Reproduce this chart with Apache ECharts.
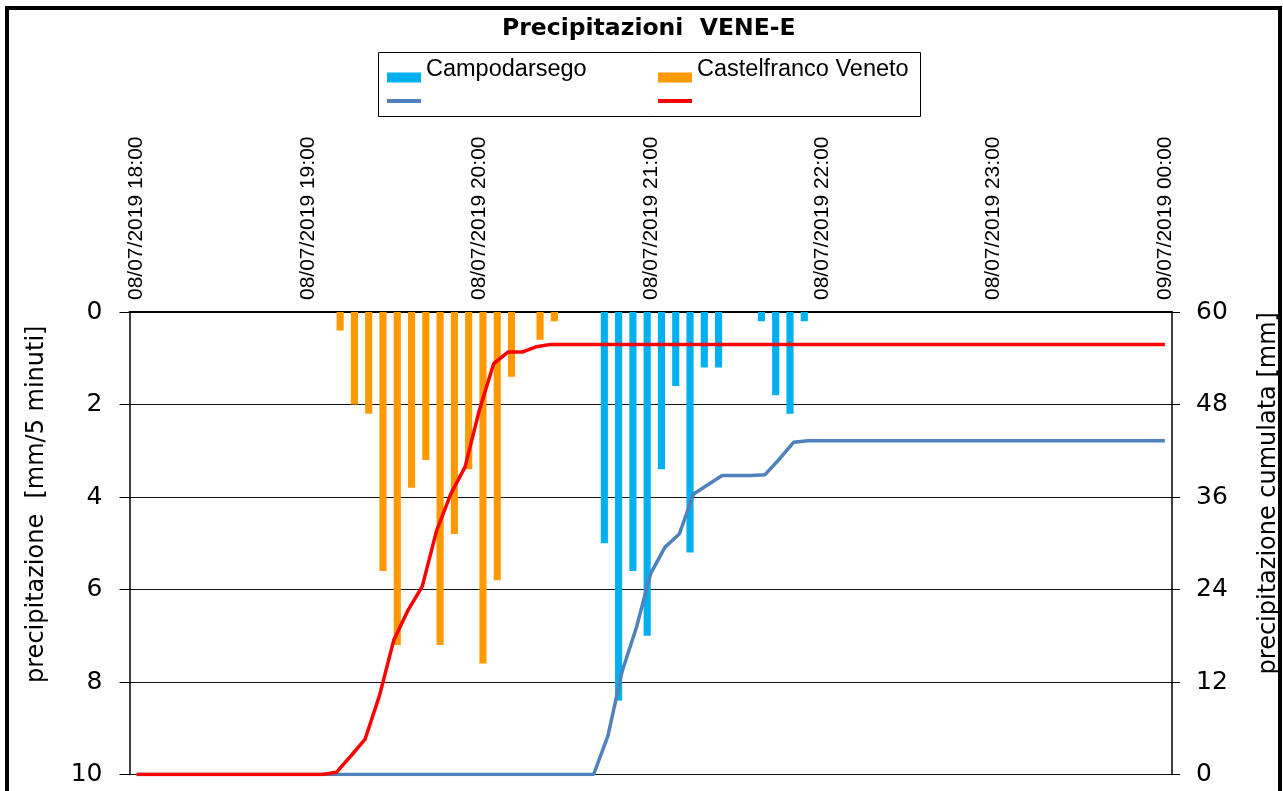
<!DOCTYPE html>
<html>
<head>
<meta charset="utf-8">
<script src="https://cdn.jsdelivr.net/npm/echarts@6/dist/echarts.min.js"></script>
<style>
html,body{margin:0;padding:0;background:#ffffff;}
#chart{width:1283px;height:791px;}
</style>
</head>
<body>
<div id="chart"></div>
<script>
// ---- data ----
const titleText = 'Precipitazioni  VENE-E';
const seriesNames = ['Campodarsego', 'Castelfranco Veneto'];
const cumNames = ['Campodarsego cumulata', 'Castelfranco Veneto cumulata'];

// 5-minute timestamps, 08/07/2019 18:00 -> 09/07/2019 00:00 (73 categories)
const categories = [];
for (let i = 0; i <= 72; i++) {
  const m = 18 * 60 + i * 5;
  const day = m >= 24 * 60 ? '09' : '08';
  const hh = String(Math.floor(m / 60) % 24).padStart(2, '0');
  const mm = String(m % 60).padStart(2, '0');
  categories.push(day + '/07/2019 ' + hh + ':' + mm);
}

// rain per 5 minutes [mm/5 minuti]
const campodarsegoBars = [
  0,0,0,0,0,0,0,0,0,0,0,0,
  0,0,0,0,0,0,0,0,0,0,0,0,
  0,0,0,0,0,0,0,0,0,5.0,8.4,5.6,
  7.0,3.4,1.6,5.2,1.2,1.2,0,0,0.2,1.8,2.2,0.2,
  0,0,0,0,0,0,0,0,0,0,0,0,
  0,0,0,0,0,0,0,0,0,0,0,0,
  0
];
const castelfrancoBars = [
  0,0,0,0,0,0,0,0,0,0,0,0,
  0,0,0.4,2.0,2.2,5.6,7.2,3.8,3.2,7.2,4.8,3.4,
  7.6,5.8,1.4,0,0.6,0.2,0,0,0,0,0,0,
  0,0,0,0,0,0,0,0,0,0,0,0,
  0,0,0,0,0,0,0,0,0,0,0,0,
  0,0,0,0,0,0,0,0,0,0,0,0,
  0
];
// cumulated rain [mm]
const campodarsegoCum = [
  0,0,0,0,0,0,0,0,0,0,0,0,
  0,0,0,0,0,0,0,0,0,0,0,0,
  0,0,0,0,0,0,0,0,0,5.0,13.4,19.1,
  26.1,29.5,31.2,36.4,37.6,38.8,38.8,38.8,38.9,40.9,43.1,43.3,
  43.3,43.3,43.3,43.3,43.3,43.3,43.3,43.3,43.3,43.3,43.3,43.3,
  43.3,43.3,43.3,43.3,43.3,43.3,43.3,43.3,43.3,43.3,43.3,43.3,
  43.3
];
const castelfrancoCum = [
  0,0,0,0,0,0,0,0,0,0,0,0,
  0,0,0.3,2.4,4.6,10.2,17.4,21.3,24.4,31.6,36.4,39.9,
  47.3,53.3,54.8,54.8,55.5,55.8,55.8,55.8,55.8,55.8,55.8,55.8,
  55.8,55.8,55.8,55.8,55.8,55.8,55.8,55.8,55.8,55.8,55.8,55.8,
  55.8,55.8,55.8,55.8,55.8,55.8,55.8,55.8,55.8,55.8,55.8,55.8,
  55.8,55.8,55.8,55.8,55.8,55.8,55.8,55.8,55.8,55.8,55.8,55.8,
  55.8
];

const colors = {
  campoBar: '#00B0F0',
  castelBar: '#FF9900',
  campoLine: '#4F81BD',
  castelLine: '#FF0000'
};

const chart = echarts.init(document.getElementById('chart'), null, {renderer: 'canvas'});

const legendText = {
  fontFamily: 'Liberation Sans',
  fontSize: 23.5,
  color: '#000',
  rich: { t: { fontFamily: 'Liberation Sans', fontSize: 23.5, color: '#000', padding: [0, 0, 15, 0] } }
};

const option = {
  animation: false,
  backgroundColor: '#ffffff',
  title: {
    text: titleText,
    left: 502,
    top: 17,
    padding: 0,
    textStyle: { fontFamily: 'DejaVu Sans', fontWeight: 'bold', fontSize: 23.5, color: '#000' }
  },
  legend: [
    { data: [seriesNames[0]], left: 387, top: 58, padding: 0, icon: 'rect', itemWidth: 34, itemHeight: 10,
      formatter: n => '{t|' + n + '}', textStyle: legendText },
    { data: [seriesNames[1]], left: 658, top: 58, padding: 0, icon: 'rect', itemWidth: 34, itemHeight: 10,
      formatter: n => '{t|' + n + '}', textStyle: legendText },
    { data: [cumNames[0]], left: 387, top: 99, padding: 0, icon: 'rect', itemWidth: 34, itemHeight: 4,
      formatter: () => '', textStyle: { fontSize: 1 } },
    { data: [cumNames[1]], left: 658, top: 99, padding: 0, icon: 'rect', itemWidth: 34, itemHeight: 4,
      formatter: () => '', textStyle: { fontSize: 1 } }
  ],
  graphic: [
    { type: 'rect', z: -1, shape: { x: 7, y: 8, width: 1273, height: 800 },
      style: { fill: 'none', stroke: '#000', lineWidth: 4 } },
    { type: 'rect', z: -1, shape: { x: 378.5, y: 52.5, width: 542, height: 64 },
      style: { fill: 'none', stroke: '#000', lineWidth: 1 } }
  ],
  grid: { left: 129.5, right: 111, top: 312, bottom: 16.5, containLabel: false, outerBoundsMode: 'none' },
  xAxis: {
    type: 'category',
    data: categories,
    position: 'top',
    boundaryGap: true,
    axisLine: { onZero: false, lineStyle: { color: '#000', width: 2 } },
    axisTick: { interval: 11, length: 5, lineStyle: { color: '#000', width: 1 } },
    axisLabel: { interval: 11, rotate: -90, margin: 12, fontFamily: 'Liberation Sans', fontSize: 21, color: '#000' },
    splitLine: { show: false }
  },
  yAxis: [
    {
      type: 'value', inverse: true, min: 0, max: 10, interval: 2, position: 'left',
      name: 'precipitazione  [mm/5 minuti]', nameLocation: 'middle', nameGap: 81,
      nameTextStyle: { fontFamily: 'DejaVu Sans', fontSize: 24, color: '#000', padding: [0, 0, 0, 78] },
      axisLine: { show: true, lineStyle: { color: '#000', width: 1.5 } },
      axisTick: { show: true, length: 10, lineStyle: { color: '#000' } },
      axisLabel: { margin: 27, fontFamily: 'DejaVu Sans', fontSize: 25, color: '#000' },
      splitLine: { show: true, lineStyle: { color: '#111', width: 1.2 } }
    },
    {
      type: 'value', min: 0, max: 60, interval: 12, position: 'right',
      name: 'precipitazione cumulata [mm]', nameLocation: 'middle', nameGap: 85,
      nameTextStyle: { fontFamily: 'DejaVu Sans', fontSize: 24, color: '#000', padding: [0, 0, 0, 100] },
      axisLine: { show: true, lineStyle: { color: '#000', width: 1.5 } },
      axisTick: { show: true, length: 8, lineStyle: { color: '#000' } },
      axisLabel: { margin: 24, fontFamily: 'DejaVu Sans', fontSize: 25, color: '#000' },
      splitLine: { show: false }
    }
  ],
  series: [
    { name: seriesNames[0], type: 'bar', yAxisIndex: 0, data: campodarsegoBars,
      barGap: '0%', barCategoryGap: '0%', itemStyle: { color: colors.campoBar }, z: 2 },
    { name: seriesNames[1], type: 'bar', yAxisIndex: 0, data: castelfrancoBars,
      barGap: '0%', barCategoryGap: '0%', itemStyle: { color: colors.castelBar }, z: 2 },
    { name: cumNames[0], type: 'line', yAxisIndex: 1, data: campodarsegoCum, symbol: 'none',
      lineStyle: { color: colors.campoLine, width: 3.5 }, itemStyle: { color: colors.campoLine }, z: 3 },
    { name: cumNames[1], type: 'line', yAxisIndex: 1, data: castelfrancoCum, symbol: 'none',
      lineStyle: { color: colors.castelLine, width: 3.5 }, itemStyle: { color: colors.castelLine }, z: 4 }
  ]
};
chart.setOption(option);
</script>
</body>
</html>
